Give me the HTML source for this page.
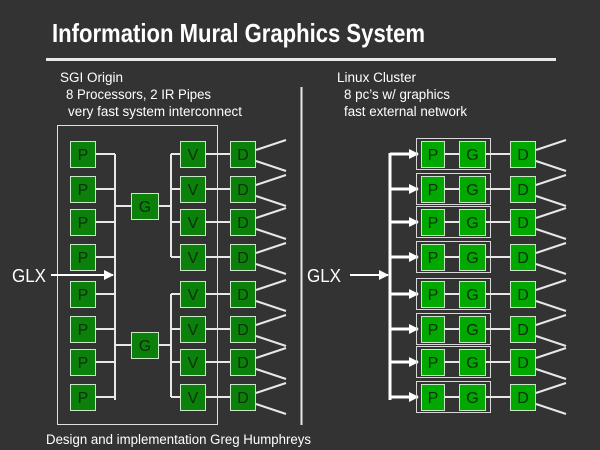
<!DOCTYPE html>
<html><head><style>
html,body{margin:0;padding:0;background:#333333;}
svg{display:block;}
text{font-family:"Liberation Sans",sans-serif;}
</style></head><body>
<svg width="600" height="450" viewBox="0 0 600 450" xmlns="http://www.w3.org/2000/svg">
<defs>
<marker id="ar" markerWidth="10" markerHeight="10" refX="9" refY="5" orient="auto" markerUnits="userSpaceOnUse">
<path d="M0,0 L10,5 L0,10 Z" fill="#fff"/>
</marker>
</defs>
<rect width="600" height="450" fill="#333333"/>
<text x="52" y="42" fill="#fff" font-size="26" font-weight="bold" textLength="373" lengthAdjust="spacingAndGlyphs">Information Mural Graphics System</text>
<rect x="46" y="58" width="510" height="3" fill="#e8e8e8"/>

<g fill="#fff" font-size="13.5">
<text x="60" y="82" textLength="63" lengthAdjust="spacingAndGlyphs">SGI Origin</text>
<text x="66" y="99" textLength="145" lengthAdjust="spacingAndGlyphs">8 Processors, 2 IR Pipes</text>
<text x="68" y="116" textLength="174" lengthAdjust="spacingAndGlyphs">very fast system interconnect</text>
<text x="337" y="82" textLength="79" lengthAdjust="spacingAndGlyphs">Linux Cluster</text>
<text x="344" y="99" textLength="106" lengthAdjust="spacingAndGlyphs">8 pc’s w/ graphics</text>
<text x="344" y="116" textLength="123" lengthAdjust="spacingAndGlyphs">fast external network</text>
<text x="46" y="444" textLength="265" lengthAdjust="spacingAndGlyphs">Design and implementation Greg Humphreys</text>
</g>

<line x1="301.5" y1="87" x2="301.5" y2="425" stroke="#e8e8e8" stroke-width="2"/>

<!-- left -->
<rect x="57.5" y="125.5" width="160" height="299" fill="none" stroke="#e0e0e0" stroke-width="1"/>
<g stroke="#e8e8e8" stroke-width="2" fill="none">
<line x1="115" y1="154" x2="115" y2="400"/>
<line x1="171" y1="154" x2="171" y2="257"/>
<line x1="171" y1="294" x2="171" y2="397"/>
<line x1="115" y1="206" x2="131" y2="206"/>
<line x1="115" y1="345" x2="131" y2="345"/>
<line x1="158" y1="206" x2="171" y2="206"/>
<line x1="158" y1="345" x2="171" y2="345"/>
</g>
<line x1="51" y1="275" x2="113" y2="275" stroke="#fff" stroke-width="2" marker-end="url(#ar)"/>
<text x="12" y="282" fill="#fff" font-size="18" textLength="34" lengthAdjust="spacingAndGlyphs">GLX</text>

<g id="rowsL"></g>
<!-- right -->
<line x1="390" y1="153" x2="390" y2="400" stroke="#fff" stroke-width="3"/>
<line x1="350" y1="275" x2="388" y2="275" stroke="#fff" stroke-width="2" marker-end="url(#ar)"/>
<text x="307" y="282" fill="#fff" font-size="18" textLength="34" lengthAdjust="spacingAndGlyphs">GLX</text>

<g font-size="16" text-anchor="middle" fill="#0a300a">
<!-- rows generated inline -->
<g id="L">
</g>
</g>
<script>
(function(){
var ns="http://www.w3.org/2000/svg";
var svg=document.querySelector('svg');
var cs=[154,189,222,257,294,329,362,397];
function el(t,a){var e=document.createElementNS(ns,t);for(var k in a)e.setAttribute(k,a[k]);svg.appendChild(e);return e;}
function box(x,c,w,lbl,fill){el('rect',{x:x+0.5,y:c-12.5,width:w,height:26,fill:fill,stroke:'#c8e8c8','stroke-width':1});
var t=el('text',{x:x+w/2+0.5,y:c+6,'font-size':16,'text-anchor':'middle',fill:'#0a300a'});t.textContent=lbl;}
function dl(x,c){el('line',{x1:x,y1:c-4,x2:x+30,y2:c-14,stroke:'#e8e8e8','stroke-width':2});
el('line',{x1:x,y1:c+7,x2:x+30,y2:c+17,stroke:'#e8e8e8','stroke-width':2});}
cs.forEach(function(c){
el('line',{x1:95,y1:c,x2:115,y2:c,stroke:'#e8e8e8','stroke-width':2});
el('line',{x1:171,y1:c,x2:230,y2:c,stroke:'#e8e8e8','stroke-width':2});
box(70,c,25,'P','#0b800b');
box(180,c,25,'V','#0b800b');
box(230,c,25,'D','#0b800b');
dl(256,c);
// right
el('line',{x1:390,y1:c,x2:418,y2:c,stroke:'#fff','stroke-width':3,'marker-end':'url(#ar)'});
el('rect',{x:416.5,y:c-15.5,width:74,height:31,fill:'none',stroke:'#d8d8d8','stroke-width':1});
el('line',{x1:444,y1:c,x2:510,y2:c,stroke:'#e8e8e8','stroke-width':2});
box(421,c,23,'P','#00a800');
box(459,c,26,'G','#00a800');
box(510,c,25,'D','#00a800');
dl(536,c);
});
box(131,206,27,'G','#0b800b');
box(131,345,27,'G','#0b800b');
})();
</script>
</svg>
</body></html>
